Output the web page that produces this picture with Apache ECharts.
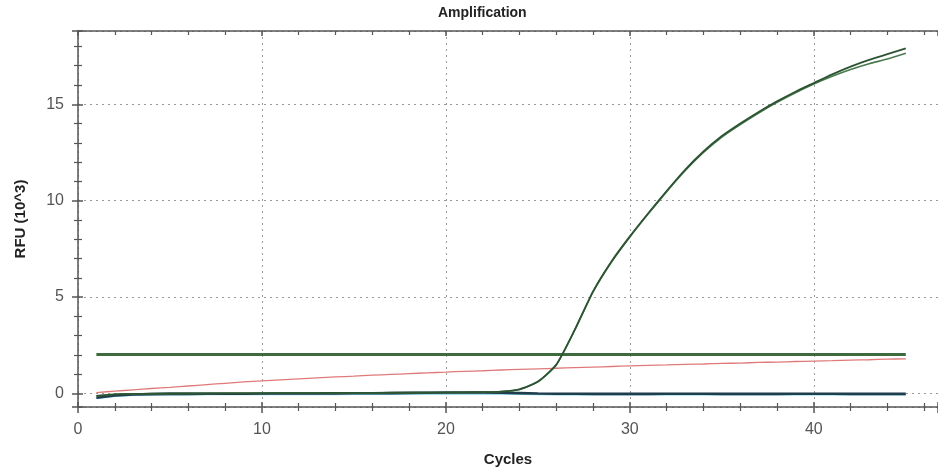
<!DOCTYPE html>
<html>
<head>
<meta charset="utf-8">
<title>Amplification</title>
<script src="https://cdn.jsdelivr.net/npm/echarts@6/dist/echarts.min.js"></script>
<style>
  html, body {margin: 0;padding: 0;background: #fff;}
  #chart {width: 938px;height: 469px;}
</style>
</head>
<body>
<div id="chart"></div>

<script>
// cycles 1..45
var cycles = [1,2,3,4,5,6,7,8,9,10,11,12,13,14,15,16,17,18,19,20,21,22,23,24,25,26,27,28,29,30,31,32,33,34,35,36,37,38,39,40,41,42,43,44,45];

// amplification curves (RFU x10^3)
var ampA = [-0.12,-0.04,-0.02,-0.01,0,0,0,0.01,0.01,0.01,0.02,0.02,0.02,0.03,0.03,0.03,0.04,0.04,0.05,0.05,0.06,0.07,0.1,0.22,0.62,1.5,3.3,5.3,6.85,8.15,9.35,10.5,11.6,12.55,13.35,14.0,14.6,15.15,15.65,16.1,16.55,16.95,17.3,17.6,17.9];
var ampB = [-0.12,-0.04,-0.02,-0.01,0,0,0,0.01,0.01,0.01,0.02,0.02,0.02,0.03,0.03,0.03,0.04,0.04,0.05,0.05,0.06,0.07,0.1,0.21,0.6,1.48,3.28,5.27,6.82,8.12,9.32,10.47,11.55,12.5,13.3,13.95,14.55,15.1,15.6,16.05,16.45,16.8,17.1,17.35,17.65];

// drifting red trace
var redTrace = [0.05,0.12,0.19,0.26,0.32,0.39,0.46,0.53,0.6,0.66,0.71,0.76,0.81,0.86,0.9,0.95,0.99,1.03,1.07,1.11,1.15,1.18,1.22,1.25,1.28,1.31,1.34,1.37,1.4,1.43,1.46,1.48,1.51,1.53,1.56,1.58,1.61,1.63,1.66,1.68,1.7,1.73,1.75,1.78,1.8];

// flat negative traces
var darkBase = [-0.22,-0.1,-0.05,-0.03,-0.02,-0.02,-0.01,-0.01,-0.01,0,0,0,0,0,0.01,0.01,0.02,0.03,0.04,0.05,0.05,0.05,0.04,0.02,0,-0.01,-0.01,-0.02,-0.02,-0.02,-0.02,-0.01,-0.01,-0.01,-0.02,-0.02,-0.02,-0.02,-0.01,-0.01,-0.01,-0.02,-0.02,-0.02,-0.02];
var cyanBase = [-0.26,-0.14,-0.09,-0.07,-0.06,-0.06,-0.05,-0.05,-0.05,-0.05,-0.05,-0.05,-0.05,-0.05,-0.04,-0.04,-0.04,-0.03,-0.02,-0.02,-0.02,-0.02,-0.03,-0.04,-0.05,-0.06,-0.06,-0.06,-0.06,-0.06,-0.06,-0.06,-0.06,-0.06,-0.06,-0.06,-0.06,-0.06,-0.06,-0.06,-0.06,-0.06,-0.06,-0.06,-0.06];

// threshold
var thresholdCycles = [1, 45];
var thresholdLevel = 2.02;

function pairs(xs, ys) {
  return xs.map(function (x, i) { return [x, ys[i]]; });
}

var chart = echarts.init(document.getElementById('chart'));
var font = '"Liberation Sans", Arial, sans-serif';
var axisCol = '#555';

var xBase = {
  type: 'value', min: 0, max: 46.75, splitNumber: 5, gridIndex: 0
};
var yBase = {
  type: 'value', min: -0.7, max: 18.8, splitNumber: 4, gridIndex: 0
};

function lineSeries(name, data, color, width, smooth) {
  return {
    name: name, type: 'line', data: data, symbol: 'none',
    smooth: smooth || false,
    xAxisIndex: 0, yAxisIndex: 0,
    lineStyle: {color: color, width: width}, emphasis: {disabled: true}
  };
}

chart.setOption({
  animation: false,
  backgroundColor: '#fff',
  textStyle: {fontFamily: font},
  title: {
    text: 'Amplification', left: 438, top: 6, padding: 0,
    textStyle: {fontSize: 14, fontWeight: 'bold', color: '#222', fontFamily: font}
  },
  grid: {left: 78, right: 0, top: 31, bottom: 62, containLabel: false, outerBoundsMode: 'none'},
  xAxis: [
    Object.assign({}, xBase, {
      position: 'bottom',
      name: 'Cycles', nameLocation: 'middle', nameGap: 45,
      nameTextStyle: {fontSize: 15, fontWeight: 'bold', color: '#222'},
      axisLine: {show: true, onZero: false, lineStyle: {color: axisCol, width: 1.5}},
      axisTick: {show: true, inside: false, length: 6, lineStyle: {color: axisCol, width: 1.5}},
      minorTick: {show: true, splitNumber: 5, length: 4, lineStyle: {color: axisCol, width: 1.2}},
      axisLabel: {fontSize: 16, color: '#555', margin: 15, showMaxLabel: false},
      splitLine: {show: true, lineStyle: {color: '#9a9a9a', width: 1, type: [2, 4]}}
    }),
    Object.assign({}, xBase, {
      position: 'bottom',
      axisLine: {show: false, onZero: false},
      axisTick: {show: true, inside: true, length: 5, lineStyle: {color: axisCol, width: 1.5}},
      minorTick: {show: true, splitNumber: 5, length: 4, lineStyle: {color: axisCol, width: 1.2}},
      axisLabel: {show: false},
      splitLine: {show: false}
    }),
    Object.assign({}, xBase, {
      position: 'top',
      axisLine: {show: true, onZero: false, lineStyle: {color: axisCol, width: 1.5}},
      axisTick: {show: true, inside: true, length: 5, lineStyle: {color: axisCol, width: 1.5}},
      minorTick: {show: true, splitNumber: 5, length: 4, lineStyle: {color: axisCol, width: 1.2}},
      axisLabel: {show: false},
      splitLine: {show: false}
    })
  ],
  yAxis: [
    Object.assign({}, yBase, {
      position: 'left',
      name: 'RFU (10^3)', nameLocation: 'middle', nameGap: 50, nameRotate: 90,
      nameTextStyle: {fontSize: 15, fontWeight: 'bold', color: '#222'},
      axisLine: {show: true, onZero: false, lineStyle: {color: axisCol, width: 1.5}},
      axisTick: {show: true, inside: false, length: 6, lineStyle: {color: axisCol, width: 1.5}},
      minorTick: {show: true, splitNumber: 5, length: 4, lineStyle: {color: axisCol, width: 1.2}},
      axisLabel: {fontSize: 16, color: '#555', margin: 14, showMinLabel: false, showMaxLabel: false},
      splitLine: {show: true, lineStyle: {color: '#9a9a9a', width: 1, type: [2, 4]}}
    }),
    Object.assign({}, yBase, {
      position: 'left',
      axisLine: {show: false, onZero: false},
      axisTick: {show: true, inside: true, length: 5, lineStyle: {color: axisCol, width: 1.5}},
      minorTick: {show: true, splitNumber: 5, length: 4, lineStyle: {color: axisCol, width: 1.2}},
      axisLabel: {show: false},
      splitLine: {show: false}
    })
  ],
  series: [
    lineSeries('cyan', pairs(cycles, cyanBase), '#86d4e6', 1.5),
    lineSeries('red', pairs(cycles, redTrace), '#e07a7a', 1.3, 0.3),
    lineSeries('baseline', pairs(cycles, darkBase), '#1f3d4c', 2.6),
    lineSeries('threshold', thresholdCycles.map(function (c) { return [c, thresholdLevel]; }), '#3d6b3d', 3),
    lineSeries('ampB', pairs(cycles, ampB), '#4a7a4e', 1.6, 0.2),
    lineSeries('ampA', pairs(cycles, ampA), '#2c5433', 1.8, 0.2)
  ]
});

window.onresize = chart.resize;
</script>
</body>
</html>
